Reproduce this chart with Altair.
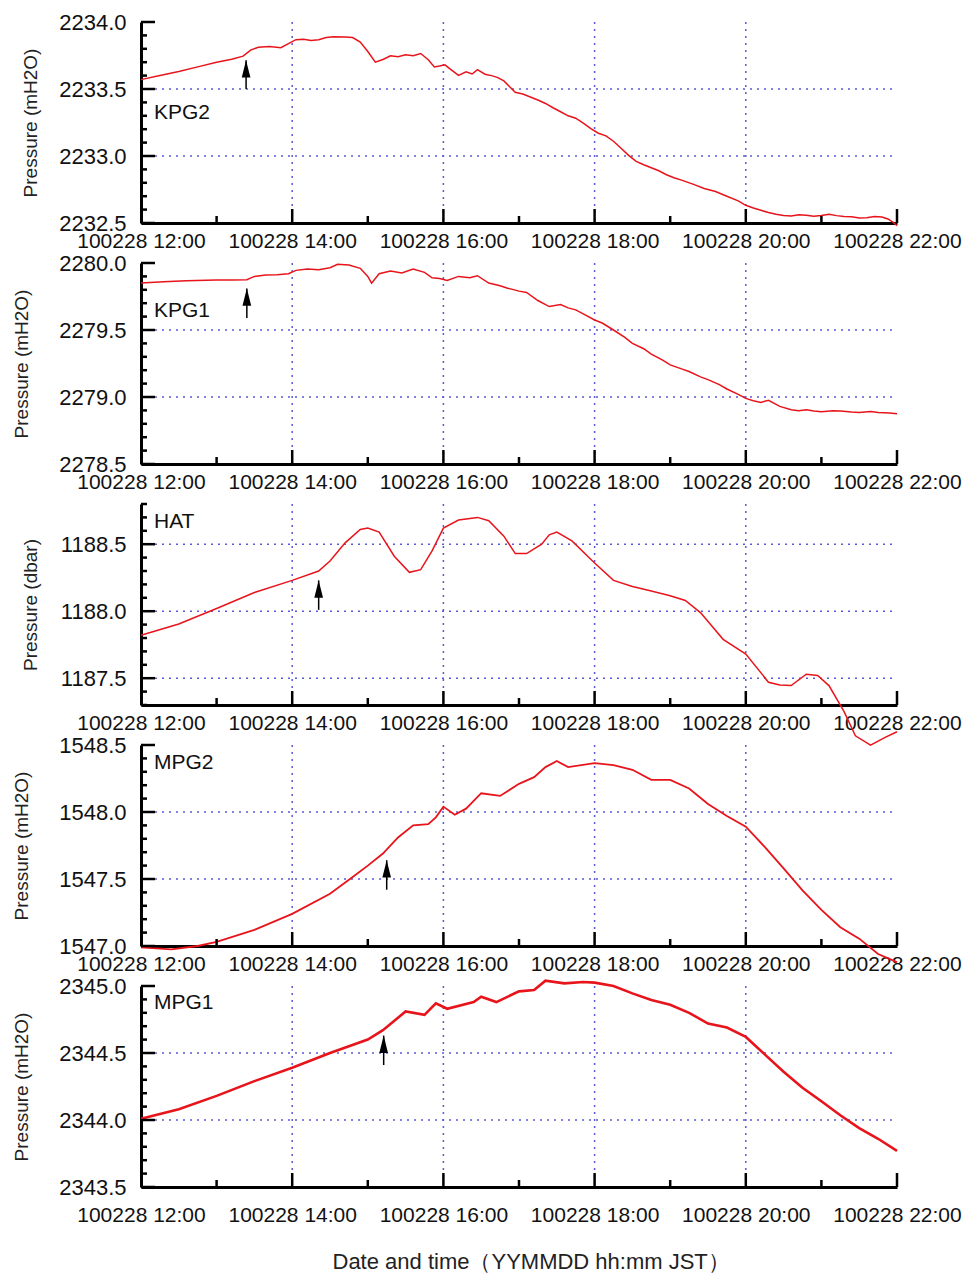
import altair as alt
import pandas as pd
import numpy as np

# ---------------- data ----------------
KPG2_T = [12.0, 12.25, 12.5, 12.75, 13.0, 13.2, 13.35, 13.45, 13.55, 13.7, 13.85, 13.95, 14.05, 14.15,
          14.25, 14.35, 14.45, 14.55, 14.7, 14.8, 14.9, 15.0, 15.1, 15.2, 15.3, 15.4, 15.5, 15.6, 15.7,
          15.8, 15.88, 15.95, 16.02, 16.1, 16.2, 16.3, 16.38, 16.45, 16.55, 16.65, 16.72, 16.8, 16.88,
          16.95, 17.05, 17.15, 17.25, 17.35, 17.45, 17.55, 17.65, 17.75, 17.85, 17.95, 18.05, 18.15,
          18.25, 18.35, 18.45, 18.55, 18.65, 18.75, 18.85, 18.95, 19.05, 19.15, 19.3, 19.45, 19.6,
          19.75, 19.9, 20.0, 20.1, 20.2, 20.3, 20.4, 20.5, 20.6, 20.7, 20.8, 20.9, 21.0, 21.1, 21.2,
          21.3, 21.4, 21.5, 21.6, 21.7, 21.8, 21.88, 21.95, 22.0]
KPG2_V = [2233.570, 2233.600, 2233.630, 2233.665, 2233.700, 2233.722, 2233.745, 2233.790, 2233.812,
          2233.818, 2233.808, 2233.838, 2233.868, 2233.872, 2233.862, 2233.868, 2233.884, 2233.890,
          2233.888, 2233.884, 2233.850, 2233.780, 2233.700, 2233.720, 2233.748, 2233.740, 2233.755,
          2233.748, 2233.765, 2233.718, 2233.665, 2233.672, 2233.680, 2233.645, 2233.602, 2233.628,
          2233.612, 2233.645, 2233.610, 2233.598, 2233.585, 2233.560, 2233.515, 2233.475, 2233.462,
          2233.440, 2233.418, 2233.392, 2233.360, 2233.330, 2233.300, 2233.282, 2233.245, 2233.205,
          2233.170, 2233.150, 2233.110, 2233.058, 2233.005, 2232.960, 2232.935, 2232.912, 2232.890,
          2232.860, 2232.838, 2232.820, 2232.790, 2232.758, 2232.735, 2232.700, 2232.665, 2232.632,
          2232.612, 2232.595, 2232.578, 2232.565, 2232.556, 2232.552, 2232.562, 2232.558, 2232.550,
          2232.556, 2232.566, 2232.555, 2232.548, 2232.546, 2232.538, 2232.540, 2232.548, 2232.544,
          2232.530, 2232.505, 2232.480]

KPG1_T = [12.0, 12.3, 12.6, 13.0, 13.2, 13.4, 13.5, 13.65, 13.8, 13.95, 14.05, 14.2, 14.35, 14.5, 14.6,
          14.75, 14.9, 15.0, 15.05, 15.15, 15.3, 15.45, 15.6, 15.75, 15.85, 15.95, 16.05, 16.2, 16.35,
          16.45, 16.6, 16.75, 16.85, 16.9, 17.0, 17.1, 17.25, 17.4, 17.55, 17.65, 17.75, 17.85, 18.0,
          18.1, 18.25, 18.4, 18.5, 18.65, 18.75, 18.9, 19.0, 19.15, 19.25, 19.4, 19.5, 19.65, 19.75,
          19.9, 20.0, 20.1, 20.2, 20.3, 20.45, 20.6, 20.7, 20.8, 20.9, 21.0, 21.15, 21.25, 21.4, 21.5,
          21.65, 21.75, 21.9, 22.0]
KPG1_V = [2279.850, 2279.860, 2279.868, 2279.873, 2279.874, 2279.875, 2279.900, 2279.910, 2279.912,
          2279.920, 2279.945, 2279.955, 2279.950, 2279.965, 2279.990, 2279.985, 2279.960, 2279.900,
          2279.850, 2279.920, 2279.940, 2279.925, 2279.955, 2279.930, 2279.890, 2279.885, 2279.870,
          2279.900, 2279.890, 2279.905, 2279.850, 2279.830, 2279.812, 2279.805, 2279.790, 2279.780,
          2279.720, 2279.675, 2279.690, 2279.665, 2279.650, 2279.620, 2279.575, 2279.552, 2279.500,
          2279.445, 2279.400, 2279.360, 2279.320, 2279.275, 2279.240, 2279.210, 2279.190, 2279.150,
          2279.130, 2279.092, 2279.060, 2279.020, 2278.990, 2278.972, 2278.960, 2278.975, 2278.930,
          2278.905, 2278.898, 2278.905, 2278.895, 2278.890, 2278.898, 2278.895, 2278.888, 2278.885,
          2278.892, 2278.885, 2278.880, 2278.875]

HAT_T = [12.0, 12.5, 13.0, 13.5, 14.0, 14.35, 14.5, 14.7, 14.9, 15.0, 15.15, 15.35, 15.55, 15.7, 15.85,
         16.0, 16.2, 16.45, 16.6, 16.8, 16.95, 17.1, 17.3, 17.4, 17.5, 17.7, 18.0, 18.25, 18.5, 18.75,
         19.0, 19.2, 19.4, 19.7, 20.0, 20.3, 20.45, 20.6, 20.8, 20.95, 21.1, 21.3, 21.45, 21.65, 21.85,
         22.0]
HAT_V = [1187.82, 1187.905, 1188.02, 1188.14, 1188.23, 1188.30, 1188.375, 1188.51, 1188.61, 1188.62,
         1188.59, 1188.41, 1188.29, 1188.31, 1188.45, 1188.62, 1188.68, 1188.70, 1188.675, 1188.56,
         1188.43, 1188.43, 1188.50, 1188.57, 1188.59, 1188.525, 1188.36, 1188.23, 1188.185, 1188.15,
         1188.115, 1188.08, 1187.99, 1187.79, 1187.68, 1187.47, 1187.45, 1187.445, 1187.53, 1187.52,
         1187.445, 1187.25, 1187.07, 1187.00, 1187.06, 1187.10]

MPG2_T = [12.0, 12.4, 12.75, 13.0, 13.5, 14.0, 14.5, 14.8, 15.0, 15.2, 15.4, 15.6, 15.8, 15.9, 16.0,
          16.15, 16.3, 16.5, 16.75, 17.0, 17.2, 17.35, 17.5, 17.65, 18.0, 18.25, 18.5, 18.75, 19.0,
          19.25, 19.5, 19.75, 20.0, 20.25, 20.5, 20.75, 21.0, 21.25, 21.5, 21.75, 22.0]
MPG2_V = [1546.99, 1546.975, 1547.0, 1547.03, 1547.12, 1547.24, 1547.39, 1547.515, 1547.60, 1547.69,
          1547.81, 1547.90, 1547.91, 1547.96, 1548.04, 1547.98, 1548.025, 1548.14, 1548.12, 1548.21,
          1548.26, 1548.335, 1548.38, 1548.335, 1548.365, 1548.35, 1548.315, 1548.24, 1548.24,
          1548.175, 1548.06, 1547.97, 1547.89, 1547.74, 1547.58, 1547.415, 1547.27, 1547.14, 1547.055,
          1546.94, 1546.88]

MPG1_T = [12.0, 12.5, 13.0, 13.5, 14.0, 14.5, 15.0, 15.2, 15.5, 15.75, 15.9, 16.05, 16.4, 16.5, 16.7,
          17.0, 17.2, 17.35, 17.6, 17.85, 18.0, 18.25, 18.5, 18.75, 19.0, 19.25, 19.5, 19.75, 20.0,
          20.25, 20.5, 20.75, 21.0, 21.25, 21.5, 21.75, 22.0]
MPG1_V = [2344.01, 2344.08, 2344.18, 2344.29, 2344.39, 2344.50, 2344.60, 2344.67, 2344.81, 2344.785,
          2344.87, 2344.83, 2344.88, 2344.92, 2344.88, 2344.96, 2344.97, 2345.04, 2345.02, 2345.03,
          2345.025, 2345.0, 2344.945, 2344.895, 2344.86, 2344.80, 2344.72, 2344.69, 2344.62, 2344.49,
          2344.36, 2344.24, 2344.14, 2344.035, 2343.94, 2343.86, 2343.77]

NAMES = ["KPG2", "KPG1", "HAT", "MPG2", "MPG1"]
Y_TITLES = ["Pressure (mH2O)", "Pressure (mH2O)", "Pressure (dbar)", "Pressure (mH2O)", "Pressure (mH2O)"]
Y_DOMAINS = [[2232.5, 2234.0], [2278.5, 2280.0], [1187.3, 1188.8], [1547.0, 1548.5], [2343.5, 2345.0]]
Y_LABELS = [[2232.5, 2233.0, 2233.5, 2234.0], [2278.5, 2279.0, 2279.5, 2280.0],
            [1187.5, 1188.0, 1188.5], [1547.0, 1547.5, 1548.0, 1548.5], [2343.5, 2344.0, 2344.5, 2345.0]]
ARROW_T = [13.39, 13.40, 14.35, 15.25, 15.21]
ARROW_TAIL = [2233.50, 2279.59, 1188.01, 1547.42, 2344.41]
ARROW_TIP = [2233.715, 2279.81, 1188.23, 1547.64, 2344.63]
SERIES_T = [KPG2_T, KPG1_T, HAT_T, MPG2_T, MPG1_T]
SERIES_V = [KPG2_V, KPG1_V, HAT_V, MPG2_V, MPG1_V]

X_LABELS = [12, 14, 16, 18, 20, 22]
X_MAJOR_TICKS = [14, 16, 18, 20, 22]
X_MINOR_TICKS = [13, 15, 17, 19, 21]
X_GRID = [14, 16, 18, 20]
X_TITLE = "Date and time（YYMMDD hh:mm JST）"

# ---------------- styles ----------------
W, H = 756, 201
RED = "#e8141b"
GRID = "#5a5ad6"
FONT = "Liberation Sans"
LINE_W = [1.5, 1.5, 1.5, 1.8, 2.6]
LABEL_Y = [91, 48, 18, 18, 17]
TITLE_X = [-111, -120, -111, -120, -120]


def X(field, last):
    return alt.X(
        f"{field}:Q",
        scale=alt.Scale(domain=[12, 22], nice=False, zero=False),
        axis=alt.Axis(values=X_LABELS, labelExpr="'100228 ' + datum.value + ':00'",
                      ticks=False, grid=False, domainColor="black", domainWidth=3,
                      labelFontSize=21, labelPadding=17 if last else 7, labelFlush=False,
                      labelOverlap=False, labelColor="#111",
                      title=X_TITLE if last else None, titleFontSize=22,
                      titleFontWeight="normal", titlePadding=26, titleColor="#222",
                      titleAnchor="start", titleX=191),
    )


def Y(field, i):
    return alt.Y(
        f"{field}:Q",
        scale=alt.Scale(domain=Y_DOMAINS[i], nice=False, zero=False),
        axis=alt.Axis(values=Y_LABELS[i], format=".1f", ticks=False, grid=False,
                      domainColor="black", domainWidth=3, labelFontSize=22, labelPadding=15,
                      labelFlush=False, labelOverlap=False, labelColor="#111",
                      title=Y_TITLES[i], titleFontSize=19, titleFontWeight="normal",
                      titleX=TITLE_X[i], titleBaseline="middle", titleColor="#222"),
    )


def panel(i):
    last = i == 4
    lo, hi = Y_DOMAINS[i]
    allv = np.round(np.arange(lo, hi + 1e-6, 0.1), 1)
    major = [v for v in allv if abs(v * 2 - round(v * 2)) < 1e-6]
    minor = [v for v in allv if abs(v * 2 - round(v * 2)) >= 1e-6]
    ygrid = [v for v in major if lo + 1e-6 < v < hi - 1e-6]

    df = pd.DataFrame({"t": SERIES_T[i], "v": SERIES_V[i]})

    vgrid = alt.Chart(pd.DataFrame({"t": X_GRID})).mark_rule(
        color=GRID, strokeDash=[2, 5], strokeWidth=1.5
    ).encode(x=X("t", last), y=alt.value(0), y2=alt.value(H))
    hgrid = alt.Chart(pd.DataFrame({"v": ygrid})).mark_rule(
        color=GRID, strokeDash=[2, 5], strokeWidth=1.5
    ).encode(y=Y("v", i), x=alt.value(0), x2=alt.value(W - 3))

    line = alt.Chart(df).mark_line(color=RED, strokeWidth=LINE_W[i]).encode(
        x=X("t", last), y=Y("v", i)
    )

    xmaj = alt.Chart(pd.DataFrame({"t": X_MAJOR_TICKS})).mark_rule(
        color="black", strokeWidth=2.5
    ).encode(x=X("t", last), y=alt.value(H), y2=alt.value(H - 14))
    xmin = alt.Chart(pd.DataFrame({"t": X_MINOR_TICKS})).mark_rule(
        color="black", strokeWidth=2.5
    ).encode(x=X("t", last), y=alt.value(H), y2=alt.value(H - 7))
    ymaj = alt.Chart(pd.DataFrame({"v": major})).mark_rule(
        color="black", strokeWidth=2.5
    ).encode(y=Y("v", i), x=alt.value(0), x2=alt.value(14))
    ymin = alt.Chart(pd.DataFrame({"v": minor})).mark_rule(
        color="black", strokeWidth=2.5
    ).encode(y=Y("v", i), x=alt.value(0), x2=alt.value(6))

    adf = pd.DataFrame({"t": [ARROW_T[i]], "v0": [ARROW_TAIL[i]], "v1": [ARROW_TIP[i]]})
    shaft = alt.Chart(adf).mark_rule(color="black", strokeWidth=1.5).encode(
        x=X("t", last), y=Y("v0", i), y2="v1:Q"
    )
    head = alt.Chart(adf).mark_point(
        shape="M0,0L0.5,2L-0.5,2Z", filled=True, color="black", size=300, opacity=1, strokeWidth=0
    ).encode(x=X("t", last), y=Y("v1", i))

    label = alt.Chart(pd.DataFrame({"d": [0]})).mark_text(
        align="left", baseline="middle", fontSize=21, color="#111", font=FONT
    ).encode(x=alt.value(13), y=alt.value(LABEL_Y[i]), text=alt.value(NAMES[i]))

    return alt.layer(vgrid, hgrid, line, xmaj, xmin, ymaj, ymin, shaft, head, label).properties(
        width=W, height=H
    )


chart = alt.vconcat(*[panel(i) for i in range(5)], spacing=40, bounds="flush").properties(
    padding={"left": 4, "right": 0, "top": 3, "bottom": 3}
).configure(font=FONT).configure_view(stroke=None)

chart.save("out.html", embed_options={"renderer": "svg", "actions": False})
